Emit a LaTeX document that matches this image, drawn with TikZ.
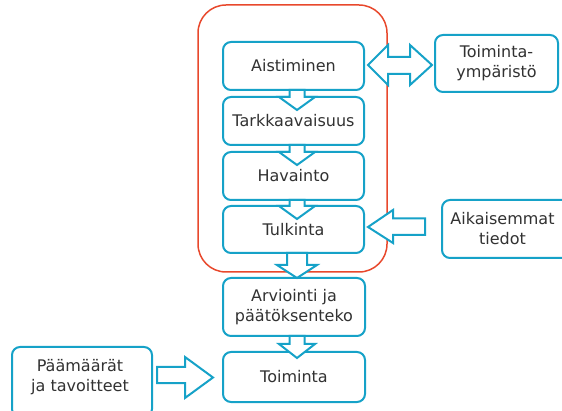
\documentclass[tikz,border=0pt]{standalone}
\usepackage{fontspec}
\setmainfont{DejaVu Sans}
\definecolor{cy}{RGB}{22,162,200}
\definecolor{rd}{RGB}{232,72,44}
\definecolor{tx}{RGB}{50,50,50}
\begin{document}
\begin{tikzpicture}[x=1pt,y=-1pt,
  box/.style={draw=cy,line width=2pt,fill=white,rounded corners=8pt,inner sep=0pt,
    font=\fontsize{16}{20}\selectfont,text=tx,align=center},
  txt/.style={inner sep=0pt,font=\fontsize{16}{20}\selectfont,text=tx,align=center},
  barrow/.style={draw=cy,line width=2pt,fill=white,line join=miter}]
\useasboundingbox (0,0) rectangle (562,411);
\clip (0,0) rectangle (562,411);
% red frame
\node[draw=rd,line width=1.5pt,rounded corners=28pt,minimum width=189pt,minimum height=267pt,inner sep=0pt] (frame) at (292.5,138.5) {};
% central boxes
\node[box,minimum width=141pt,minimum height=48pt] (aist) at (293.5,66) {Aistiminen};
\node[box,minimum width=141pt,minimum height=48pt] (tark) at (293.5,121) {Tarkkaavaisuus};
\node[box,minimum width=141pt,minimum height=48pt] (hav) at (293.5,176) {Havainto};
\node[box,minimum width=141pt,minimum height=47pt] (tulk) at (293.5,229.5) {Tulkinta};
\node[box,minimum width=142pt,minimum height=58pt] (arv) at (294,307) {Arviointi ja\\päätöksenteko};
\node[box,minimum width=142pt,minimum height=50pt] (toim) at (294,377) {Toiminta};
% side boxes
\node[box,minimum width=123pt,minimum height=57pt] (env) at (496.5,63.5) {Toiminta-\\ympäristö};
\node[box,minimum width=133pt,minimum height=58pt] (aik) at (508.5,229) {};
\node[txt] (aiktxt) at (502.5,229) {Aikaisemmat\\tiedot};
\node[box,minimum width=140pt,minimum height=70pt] (goal) at (82,382) {};
\node[txt] (goaltxt) at (80,377) {Päämäärät\\ja tavoitteet};
% vertical block arrows
\draw[barrow] (289.5,90) -- (289.5,97) -- (279,97) -- (297,110) -- (315,97) -- (304.5,97) -- (304.5,90) -- cycle;
\draw[barrow] (289.5,145) -- (289.5,152) -- (279,152) -- (297,165) -- (315,152) -- (304.5,152) -- (304.5,145) -- cycle;
\draw[barrow] (289.5,200) -- (289.5,206) -- (279,206) -- (297,219) -- (315,206) -- (304.5,206) -- (304.5,200) -- cycle;
\draw[barrow] (287,253) -- (287,265) -- (277,265) -- (297,278) -- (317,265) -- (307,265) -- (307,253) -- cycle;
\draw[barrow] (289.5,336) -- (289.5,344) -- (279,344) -- (297,358) -- (315,344) -- (304.5,344) -- (304.5,336) -- cycle;
% horizontal block arrows
\draw[barrow] (368,65) -- (388,45) -- (388,57) -- (410,57) -- (410,45) -- (432,65) -- (410,85) -- (410,74) -- (388,74) -- (388,85) -- cycle;
\draw[barrow] (368,227) -- (393,210) -- (393,218.5) -- (425,218.5) -- (425,235) -- (393,235) -- (393,243) -- cycle;
\draw[barrow] (157,367) -- (185,367) -- (185,357) -- (213,377.5) -- (185,398) -- (185,383) -- (157,383) -- cycle;
\end{tikzpicture}
\end{document}
